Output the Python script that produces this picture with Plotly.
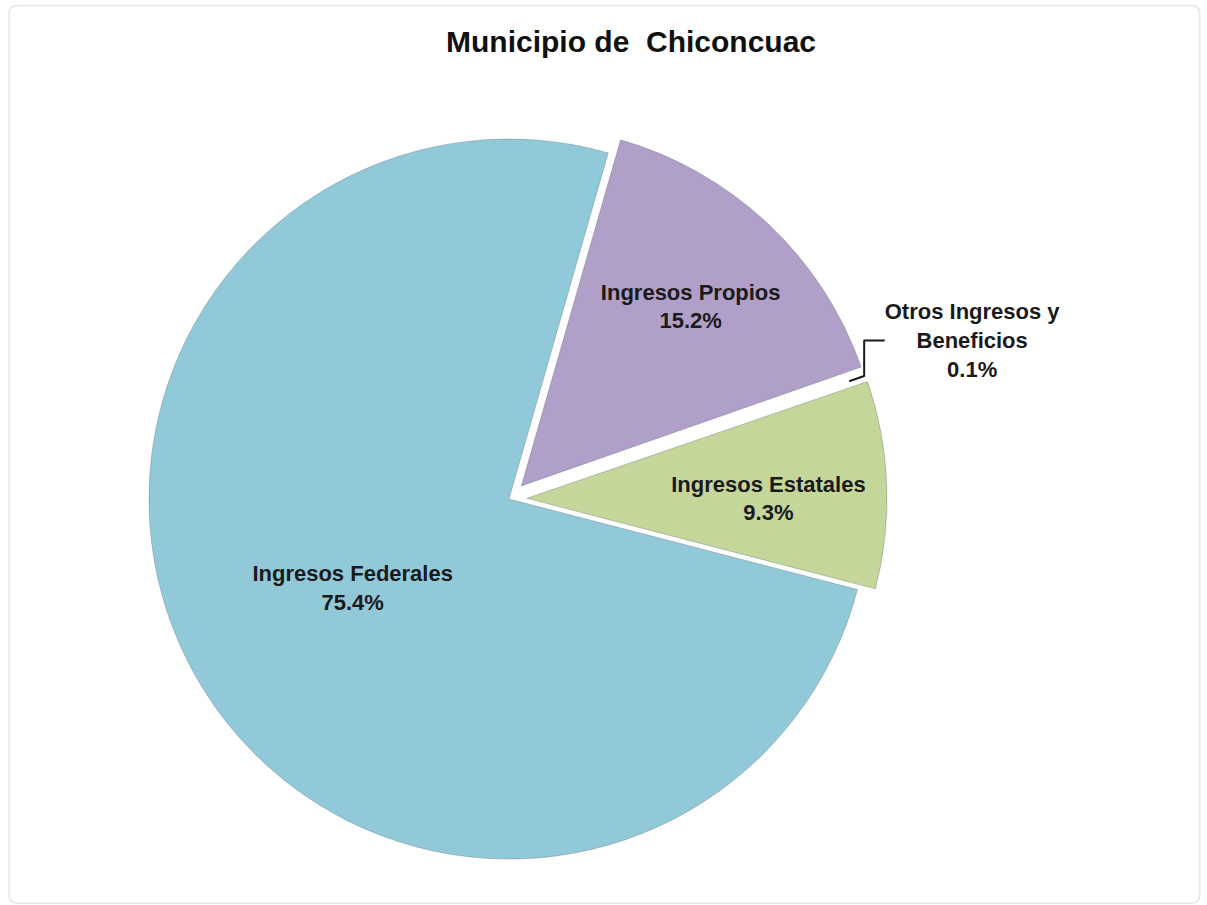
import plotly.graph_objects as go

title_text = "Municipio de  Chiconcuac"
categories = ["Ingresos Propios", "Otros Ingresos y<br>Beneficios", "Ingresos Estatales", "Ingresos Federales"]
values = [15.2, 0.1, 9.3, 75.4]
colors = ["#B09FC8", "#FFFFFF", "#C5D69B", "#92C9D9"]
pulls = [0.05, 0.0, 0.05, 0.0]
positions = ["inside", "outside", "inside", "inside"]
edge_widths = [1, 0, 1, 1]

FONT = "Arial, Liberation Sans, sans-serif"

fig = go.Figure()
fig.add_trace(go.Pie(
    labels=categories,
    values=values,
    sort=False,
    direction="clockwise",
    rotation=16,
    pull=pulls,
    marker=dict(colors=colors, line=dict(color="rgba(90,110,120,0.35)", width=edge_widths)),
    texttemplate="<b>%{label}<br>%{percent:.1%}</b>",
    textposition=positions,
    insidetextorientation="horizontal",
    textfont=dict(family=FONT, size=22, color="#1a1a1a"),
    domain=dict(x=[0.1085, 0.7349], y=[0.0309, 0.8663]),
    showlegend=False,
    hoverinfo="label+percent",
))

fig.update_layout(
    width=1207, height=905,
    margin=dict(l=0, r=0, t=0, b=0),
    paper_bgcolor="white",
    plot_bgcolor="white",
    uniformtext=dict(minsize=22, mode="show"),
    annotations=[dict(
        text="<b>" + title_text + "</b>", x=0.523, y=0.954, xref="paper", yref="paper",
        showarrow=False, xanchor="center", yanchor="middle",
        font=dict(family=FONT, size=30, color="#111111"),
    )],
    shapes=[dict(
        type="path", xref="paper", yref="paper",
        path="M 0.0155,0.994 L 0.9870,0.994 Q 0.9940,0.994 0.9940,0.985 L 0.9940,0.011 Q 0.9940,0.002 0.9870,0.002 L 0.0155,0.002 Q 0.0075,0.002 0.0075,0.011 L 0.0075,0.985 Q 0.0075,0.994 0.0155,0.994 Z",
        line=dict(color="#e6e6e6", width=1.5), layer="below",
    )],
)

fig.write_html("out.html", config={"displayModeBar": False},
               post_script="document.body.style.margin='0';document.body.style.overflow='hidden';")
